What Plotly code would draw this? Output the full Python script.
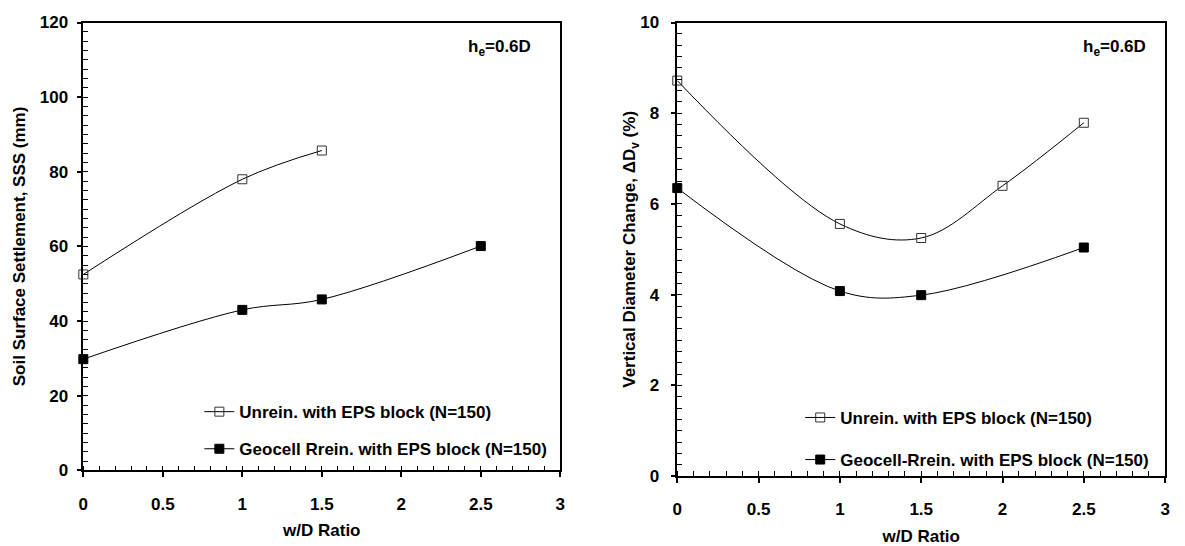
import plotly.graph_objects as go

# ---- data ----
wd_unrein_left = [0, 1, 1.5]
sss_unrein = [52.5, 78.0, 85.7]
wd_rein_left = [0, 1, 1.5, 2.5]
sss_rein = [29.8, 43.0, 45.8, 60.1]

wd_unrein_right = [0, 1, 1.5, 2, 2.5]
dv_unrein = [8.72, 5.56, 5.25, 6.40, 7.79]
wd_rein_right = [0, 1, 1.5, 2.5]
dv_rein = [6.35, 4.08, 3.99, 5.04]

x_ticks = [0, 0.5, 1, 1.5, 2, 2.5, 3]
x_tick_labels = ["0", "0.5", "1", "1.5", "2", "2.5", "3"]
y1_ticks = [0, 20, 40, 60, 80, 100, 120]
y2_ticks = [0, 2, 4, 6, 8, 10]

name_unrein = "Unrein. with EPS block (N=150)"
name_rein_left = "Geocell Rrein. with EPS block (N=150)"
name_rein_right = "Geocell-Rrein. with EPS block (N=150)"

FONT = "Liberation Sans, Arial, sans-serif"
B = lambda s: "<b>" + s + "</b>"

fig = go.Figure()

def add(x, y, name, filled, xa, ya, legend, group):
    fig.add_trace(go.Scatter(
        x=x, y=y, name=B(name), mode="lines+markers", cliponaxis=False,
        line=dict(color="black", width=1, shape="spline", smoothing=1),
        marker=dict(symbol="square" if filled else "square-open", size=9,
                    color="black" if filled else "#333333",
                    line=dict(color="black" if filled else "#333333", width=1)),
        xaxis=xa, yaxis=ya, legend=legend, legendgroup=group,
    ))

add(wd_unrein_left, sss_unrein, name_unrein, False, "x", "y", "legend", "a")
add(wd_rein_left, sss_rein, name_rein_left, True, "x", "y", "legend", "b")
add(wd_unrein_right, dv_unrein, name_unrein, False, "x2", "y2", "legend2", "c")
add(wd_rein_right, dv_rein, name_rein_right, True, "x2", "y2", "legend2", "d")

tickfont = dict(family=FONT, size=17, color="black")
titlefont = dict(family=FONT, size=17, color="black")

def xaxis(domain, anchor, tstand):
    return dict(domain=domain, anchor=anchor, range=[0, 3],
                tickvals=x_ticks, ticktext=[B(t) for t in x_tick_labels],
                showgrid=False, zeroline=False, showline=True, linecolor="black",
                linewidth=1.5, mirror=True, ticks="outside", ticklen=5, tickwidth=1.5,
                tickcolor="black", tickfont=tickfont, ticklabelstandoff=12,
                minor=dict(dtick=0.1, tick0=0, ticks="inside", ticklen=5, tickwidth=1,
                           tickcolor="black"),
                title=dict(text=B("w/D Ratio"), font=titlefont, standoff=tstand))

def yaxis(domain, anchor, rng, vals, mdt, title, so, tso):
    return dict(domain=domain, anchor=anchor, range=rng,
                tickvals=vals, ticktext=[B(str(v)) for v in vals],
                showgrid=False, zeroline=False, showline=True, linecolor="black",
                linewidth=1.5, mirror=True, ticks="outside", ticklen=5, tickwidth=1.5,
                tickcolor="black", tickfont=tickfont, ticklabelstandoff=so,
                minor=dict(dtick=mdt, tick0=0, ticks="inside", ticklen=5, tickwidth=1,
                           tickcolor="black"),
                title=dict(text=title, font=titlefont, standoff=tso))

W, H = 1185, 546
fig.update_layout(
    width=W, height=H, margin=dict(l=0, r=0, t=0, b=0),
    paper_bgcolor="white", plot_bgcolor="white",
    font=dict(family=FONT, color="black"),
    xaxis=xaxis([79 / W, 560 / W], "y", 12),
    yaxis=yaxis([1 - 478 / H, 1 - 14 / H], "x", [0, 120], y1_ticks, 2.5,
                B("Soil Surface Settlement, SSS (mm)"), 5, 10),
    xaxis2=xaxis([678 / W, 1170 / W], "y2", 12),
    yaxis2=yaxis([1 - 484 / H, 1 - 14 / H], "x2", [0, 10], y2_ticks, 0.25,
                 B("Vertical Diameter Change, ΔD<sub>v</sub> (%)"), 8, 0),
    legend=dict(x=196 / W, y=1 - 399 / H, xanchor="left", yanchor="top",
                bgcolor="rgba(0,0,0,0)", font=dict(family=FONT, size=17),
                tracegroupgap=12, itemwidth=30),
    legend2=dict(x=802 / W, y=1 - 405 / H, xanchor="left", yanchor="top",
                 bgcolor="rgba(0,0,0,0)", font=dict(family=FONT, size=17),
                 tracegroupgap=17, itemwidth=30),
    showlegend=True,
    annotations=[
        dict(text=B("h<sub>e</sub>=0.6D"), x=532 / W, y=1 - 40 / H, xref="paper", yref="paper",
             xanchor="right", yanchor="middle", showarrow=False,
             font=dict(family=FONT, size=17, color="black")),
        dict(text=B("h<sub>e</sub>=0.6D"), x=1153 / W, y=1 - 40 / H, xref="paper", yref="paper",
             xanchor="right", yanchor="middle", showarrow=False,
             font=dict(family=FONT, size=17, color="black")),
    ],
)

fig.write_html("out.html")
